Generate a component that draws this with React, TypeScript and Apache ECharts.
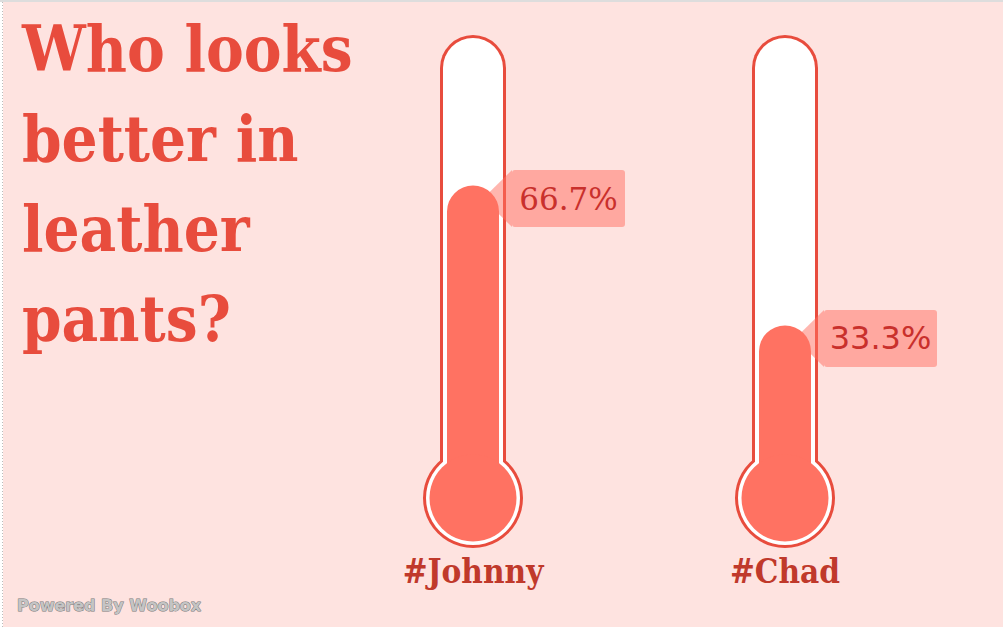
import React, { useEffect, useRef } from "react";
import * as echarts from "echarts";

const categories = ["#Johnny", "#Chad"];
const values = [66.7, 33.3];
const valueLabelFonts = ["DejaVu Serif", "DejaVu Sans"];
const titleLines = ["Who looks", "better in", "leather", "pants?"];
const footer = "Powered By Woobox";

const RED = "#e84c3d";
const FILL = "#ff7262";
const BG = "#fee3e0";
const LABEL_BG = "rgba(255,110,95,0.5)";

export default function App() {
  const ref = useRef<HTMLDivElement>(null);
  useEffect(() => {
    document.body.style.margin = "0";
    const chart = echarts.init(ref.current!, null, { renderer: "svg" });
    const data = values.map((v, i) => [i, v]);
    chart.setOption({
      animation: false,
      backgroundColor: "#ffffff",
      grid: { left: 317, right: 66, top: 46, bottom: 166 },
      xAxis: {
        type: "category",
        data: categories,
        axisLine: { show: false },
        axisTick: { show: false },
        splitLine: { show: false },
        axisLabel: {
          margin: 90,
          color: "#c0392b",
          fontSize: 33,
          fontWeight: "bold",
          fontFamily: "DejaVu Serif Condensed",
        },
        z: 10,
      },
      yAxis: { type: "value", min: 0, max: 100, show: false },
      graphic: [
        { type: "rect", z: -10, shape: { x: 3, y: 2, width: 1000, height: 625 }, style: { fill: BG } },
        { type: "rect", z: -9, shape: { x: 0, y: 0, width: 1003, height: 2 }, style: { fill: "#dddddd" } },
        { type: "line", z: -9, shape: { x1: 2.5, y1: 2, x2: 2.5, y2: 627 }, style: { stroke: "#bbbbbb", lineWidth: 1, lineDash: [1, 2] } },
        {
          type: "text",
          z: 5,
          style: {
            x: 22,
            y: 4,
            text: titleLines.join("\n"),
            fill: RED,
            fontSize: 63,
            fontWeight: "bold",
            fontFamily: "DejaVu Serif Condensed",
            lineHeight: 90,
            verticalAlign: "top",
          },
        },
        {
          type: "text",
          z: 5,
          style: {
            x: 17,
            y: 605,
            text: footer,
            fill: "#c4c4c4",
            stroke: "#7a7a7a",
            lineWidth: 1,
            fontSize: 16,
            fontWeight: "bold",
            fontFamily: "DejaVu Sans",
            verticalAlign: "middle",
          },
        },
      ],
      series: [
        {
          type: "custom",
          data,
          clip: false,
          renderItem: (params: any, api: any) => {
            const i = api.value(0);
            const v = api.value(1);
            const top = api.coord([i, v]);
            const c = top[0];
            const yTop = top[1];
            const y0 = api.coord([i, 0])[1];
            const y100 = api.coord([i, 100])[1];
            const bulbCy = y0 + 33;
            const tubeTop = y100 - 11;
            const boxX = c + 39;
            const boxY = yTop - 15.5;
            const boxW = 113;
            const boxH = 57;
            return {
              type: "group",
              children: [
                { type: "rect", shape: { x: c - 33, y: tubeTop, width: 66, height: bulbCy - tubeTop, r: [33, 33, 0, 0] }, style: { fill: RED } },
                { type: "circle", shape: { cx: c, cy: bulbCy, r: 50 }, style: { fill: RED } },
                { type: "rect", shape: { x: c - 30, y: tubeTop + 3, width: 60, height: bulbCy - tubeTop - 3, r: [30, 30, 0, 0] }, style: { fill: "#ffffff" } },
                { type: "circle", shape: { cx: c, cy: bulbCy, r: 47 }, style: { fill: "#ffffff" } },
                {
                  type: "polygon",
                  shape: { points: [[boxX, boxY], [c + 10, boxY + boxH / 2], [boxX, boxY + boxH]] },
                  style: { fill: LABEL_BG },
                },
                { type: "rect", shape: { x: c - 26, y: yTop, width: 52, height: bulbCy - yTop, r: [26, 26, 0, 0] }, style: { fill: FILL } },
                { type: "circle", shape: { cx: c, cy: bulbCy, r: 43.5 }, style: { fill: FILL } },
                { type: "rect", shape: { x: boxX, y: boxY, width: boxW, height: boxH, r: 3 }, style: { fill: LABEL_BG } },
                {
                  type: "text",
                  style: {
                    x: boxX + boxW / 2,
                    y: boxY + boxH / 2,
                    text: v.toFixed(1) + "%",
                    fill: "#c9302c",
                    fontSize: i === 0 ? 31 : 32,
                    fontFamily: valueLabelFonts[i],
                    align: "center",
                    verticalAlign: "middle",
                  },
                },
              ],
            };
          },
        },
      ],
    });
    return () => chart.dispose();
  }, []);
  return <div ref={ref} style={{ width: 1007, height: 631 }} />;
}
